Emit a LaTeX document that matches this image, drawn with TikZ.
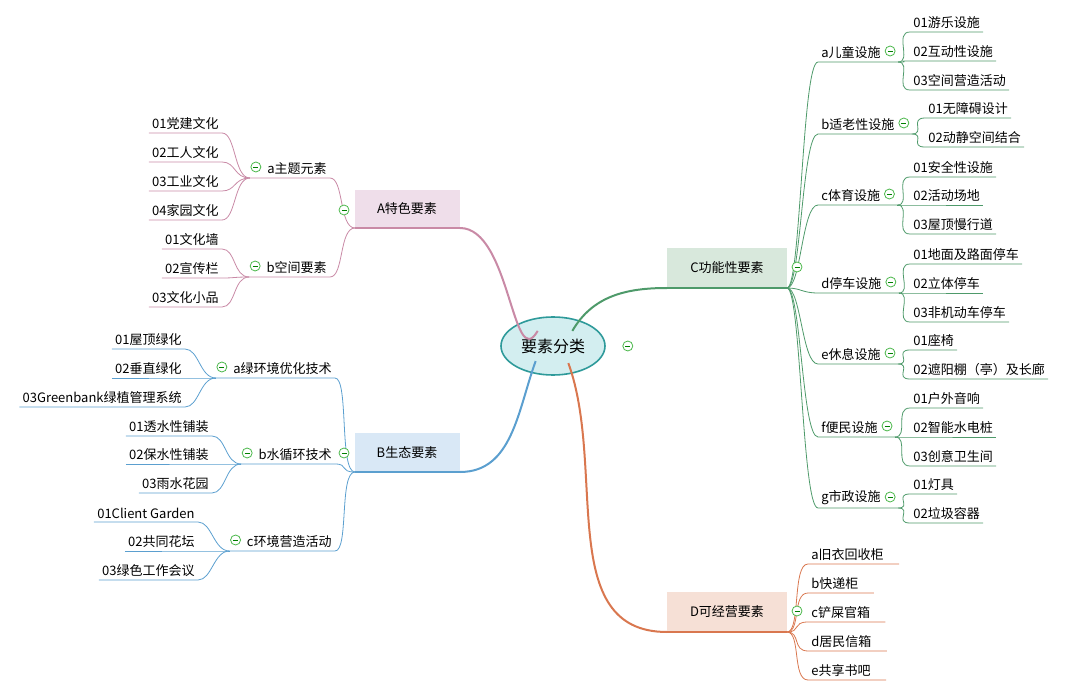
\documentclass[tikz,border=0pt]{standalone}
\usepackage{fontspec}
\setmainfont{Noto Sans CJK SC}
\usetikzlibrary{shapes.geometric}
\definecolor{pinkln}{HTML}{C98AA6}
\definecolor{pinkbg}{HTML}{EFDEEA}
\definecolor{blueln}{HTML}{5B9FCF}
\definecolor{bluebg}{HTML}{D9E8F6}
\definecolor{greenln}{HTML}{4E9A6A}
\definecolor{greenbg}{HTML}{D8E8DC}
\definecolor{orangeln}{HTML}{D9774F}
\definecolor{orangebg}{HTML}{F6E0D6}
\definecolor{rootbg}{HTML}{D3EEF0}
\definecolor{rootln}{HTML}{2E9A9A}
\tikzset{
	root/.style = {ellipse, draw=rootln, fill=rootbg, line width=1.6pt, minimum width=104pt, minimum height=58pt, font=\fontsize{16}{18}\selectfont},
	catbox/.style = {rectangle, inner sep=0pt, font=\fontsize{13}{15}\selectfont},
	sub/.style = {inner xsep=3pt, inner ysep=3pt, font=\fontsize{13}{15}\selectfont},
	leaf/.style = {inner xsep=3pt, inner ysep=3pt, font=\fontsize{13}{15}\selectfont},
	minus/.style = {circle, draw=green!60!black!70, fill=white, line width=0.8pt, minimum size=10pt, inner sep=0pt,
		path picture={\draw[green!50!black, line width=0.8pt] ([xshift=2.5pt]path picture bounding box.west) -- ([xshift=-2.5pt]path picture bounding box.east);}},
	tor/.style = {to path={.. controls +(14,0) and +(-16,0) .. (\tikztotarget)}},
}
\begin{document}
\begin{tikzpicture}[x=1pt, y=-1pt, line width=0.8pt]
\useasboundingbox (0,0) rectangle (1080,695);

% centre
\node[root] (R) at (553,346) {要素分类};

% A
\fill[pinkbg] (355,190) rectangle (460,228);
\node[catbox] (A) at (407,209) {A特色要素};
\draw[pinkln, line width=2pt] (355,228) coordinate (Awest) -- (460,228) coordinate (Aeast);
\draw[pinkln, line width=2pt] (R.north west) ++(22,6) coordinate (RA) (RA) to[out=240,in=0] (Aeast);
\node[sub, anchor=south east] (Aa) at (330,178) {a主题元素};
\node[sub, anchor=south east] (Ab) at (330,277) {b空间要素};
\foreach \s in {Aa,Ab} {
	\coordinate (\s j) at ([xshift=-14pt]\s.south west);
	\draw[pinkln] (\s j) -- (\s.south east) to[tor] (Awest);
}
\foreach \t/\y [count=\i] in {01党建文化/133, 02工人文化/162, 03工业文化/191, 04家园文化/220} {
	\node[leaf, anchor=south east] (Aa\i) at (222,\y) {\t};
	\draw[pinkln] (Aa\i.south west) -- (Aa\i.south east) to[tor] (Aaj);
}
\foreach \t/\y [count=\i] in {01文化墙/249, 02宣传栏/278, 03文化小品/307} {
	\node[leaf, anchor=south east] (Ab\i) at (222,\y) {\t};
	\draw[pinkln] (Ab\i.south west) -- (Ab\i.south east) to[tor] (Abj);
}

% B
\fill[bluebg] (355,433) rectangle (460,472);
\node[catbox] (B) at (407,453) {B生态要素};
\draw[blueln, line width=2pt] (355,472) coordinate (Bwest) -- (460,472) coordinate (Beast);
\draw[blueln, line width=2pt] (R.south west) ++(20,-6) coordinate (RB) (RB) to[out=250,in=0] (Beast);
\node[sub, anchor=south east] (Ba) at (335,378) {a绿环境优化技术};
\node[sub, anchor=south east] (Bb) at (335,464) {b水循环技术};
\node[sub, anchor=south east] (Bc) at (335,551) {c环境营造活动};
\foreach \s in {Ba,Bb,Bc} {
	\coordinate (\s j) at ([xshift=-14pt]\s.south west);
	\draw[blueln] (\s j) -- (\s.south east) to[tor] (Bwest);
}
\foreach \t/\y [count=\i] in {01屋顶绿化/349, 02垂直绿化/378, 03Greenbank绿植管理系统/407} {
	\node[leaf, anchor=south east] (Ba\i) at (185,\y) {\t};
	\draw[blueln] (Ba\i.south west) -- (Ba\i.south east) to[tor] (Baj);
}
\foreach \t/\y [count=\i] in {01透水性铺装/436, 02保水性铺装/464, 03雨水花园/493} {
	\node[leaf, anchor=south east] (Bb\i) at (212,\y) {\t};
	\draw[blueln] (Bb\i.south west) -- (Bb\i.south east) to[tor] (Bbj);
}
\foreach \t/\y [count=\i] in {01Client Garden/522, 02共同花坛/551, 03绿色工作会议/580} {
	\node[leaf, anchor=south east] (Bc\i) at (198,\y) {\t};
	\draw[blueln] (Bc\i.south west) -- (Bc\i.south east) to[tor] (Bcj);
}

% C
\fill[greenbg] (667,248) rectangle (787,288);
\node[catbox] (C) at (727,268) {C功能性要素};
\draw[greenln, line width=2pt] (667,288) coordinate (Cwest) -- (787,288) coordinate (Ceast);
\draw[greenln, line width=2pt] (R.north east) ++(-18,6) coordinate (RC) (RC) to[out=60,in=180] (Cwest);
\foreach \n/\t/\y in {Ca/a儿童设施/62, Cb/b适老性设施/134, Cc/c体育设施/205, Cd/d停车设施/293, Ce/e休息设施/364, Cf/f便民设施/437, Cg/g市政设施/508} {
	\node[sub, anchor=south west] (\n) at (818,\y) {\t};
	\coordinate (\n j) at ([xshift=14pt]\n.south east);
	\draw[greenln] (Ceast) to[tor] (\n.south west) -- (\n j);
}
\foreach \t/\y [count=\i] in {01游乐设施/32, 02互动性设施/61, 03空间营造活动/90} {
	\node[leaf, anchor=south west] (Ca\i) at (910,\y) {\t};
	\draw[greenln] (Caj) to[tor] (Ca\i.south west) -- (Ca\i.south east);
}
\foreach \t/\y [count=\i] in {01无障碍设计/118, 02动静空间结合/147} {
	\node[leaf, anchor=south west] (Cb\i) at (925,\y) {\t};
	\draw[greenln] (Cbj) to[tor] (Cb\i.south west) -- (Cb\i.south east);
}
\foreach \t/\y [count=\i] in {01安全性设施/177, 02活动场地/205, 03屋顶慢行道/234} {
	\node[leaf, anchor=south west] (Cc\i) at (910,\y) {\t};
	\draw[greenln] (Ccj) to[tor] (Cc\i.south west) -- (Cc\i.south east);
}
\foreach \t/\y [count=\i] in {01地面及路面停车/264, 02立体停车/293, 03非机动车停车/322} {
	\node[leaf, anchor=south west] (Cd\i) at (910,\y) {\t};
	\draw[greenln] (Cdj) to[tor] (Cd\i.south west) -- (Cd\i.south east);
}
\foreach \t/\y [count=\i] in {01座椅/350, 02遮阳棚（亭）及长廊/379} {
	\node[leaf, anchor=south west] (Ce\i) at (910,\y) {\t};
	\draw[greenln] (Cej) to[tor] (Ce\i.south west) -- (Ce\i.south east);
}
\foreach \t/\y [count=\i] in {01户外音响/408, 02智能水电桩/437, 03创意卫生间/466} {
	\node[leaf, anchor=south west] (Cf\i) at (910,\y) {\t};
	\draw[greenln] (Cfj) to[tor] (Cf\i.south west) -- (Cf\i.south east);
}
\foreach \t/\y [count=\i] in {01灯具/494, 02垃圾容器/523} {
	\node[leaf, anchor=south west] (Cg\i) at (910,\y) {\t};
	\draw[greenln] (Cgj) to[tor] (Cg\i.south west) -- (Cg\i.south east);
}

% D
\fill[orangebg] (667,592) rectangle (787,632);
\node[catbox] (D) at (727,612) {D可经营要素};
\draw[orangeln, line width=2pt] (667,632) coordinate (Dwest) -- (787,632) coordinate (Deast);
\draw[orangeln, line width=2pt] (R.south east) ++(-22,-4) coordinate (RD) (RD) to[out=290,in=180] (Dwest);
\foreach \t/\y [count=\i] in {a旧衣回收柜/564, b快递柜/593, c铲屎官箱/622, d居民信箱/651, e共享书吧/680} {
	\node[leaf, anchor=south west] (D\i) at (808,\y) {\t};
	\draw[orangeln] (Deast) to[tor] (D\i.south west) -- ([xshift=12pt]D\i.south east);
}

% collapse marks
\node[minus] at ([xshift=22pt]R.east) {};
\node[minus] at (344,210) {};
\node[minus] at (797,267) {};
\node[minus] at (797,611) {};
\node[minus] at (344,453) {};
\foreach \s in {Aa,Ab,Ba,Bb,Bc}
	\node[minus] at ([xshift=6pt,yshift=11pt]\s j) {};
\foreach \s in {Ca,Cb,Cc,Cd,Ce,Cf,Cg}
	\node[minus] at ([xshift=-8pt,yshift=11pt]\s j) {};
\end{tikzpicture}
\end{document}
